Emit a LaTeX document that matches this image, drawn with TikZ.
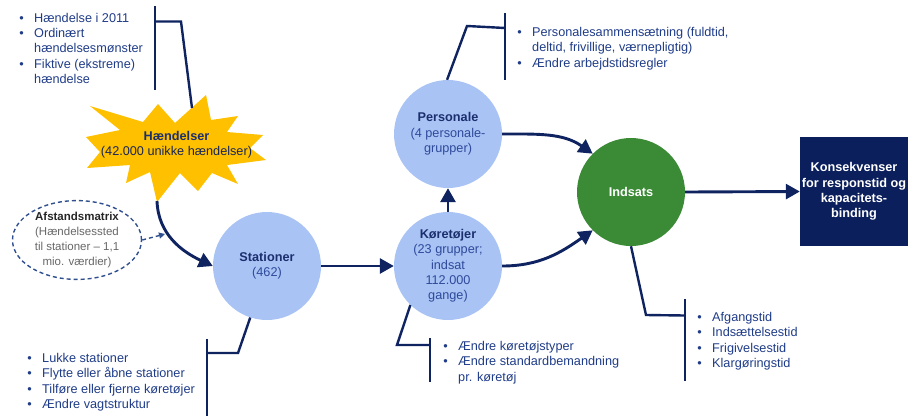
\documentclass[tikz,border=0pt]{standalone}
\usepackage{fontspec}
\setmainfont{Liberation Sans}
\usetikzlibrary{arrows.meta,shapes.geometric}
\definecolor{navy}{HTML}{0F2361}
\definecolor{bultxt}{HTML}{1F3C88}
\definecolor{cfill}{HTML}{A9C3F5}
\definecolor{ctitle}{HTML}{1B2F6E}
\definecolor{csub}{HTML}{2E4A9A}
\definecolor{gfill}{HTML}{3B8A36}
\definecolor{kfill}{HTML}{0B1F5C}
\definecolor{star}{HTML}{FFC000}
\definecolor{dashc}{HTML}{2F4F8F}
\newcommand{\bl}{\llap{\textbullet\hspace{10.5pt}}}
\begin{document}
\begin{tikzpicture}[x=1pt,y=1pt,
  font=\fontsize{12.7}{15.3}\selectfont,
  circ/.style={circle,fill=cfill,minimum size=108pt,inner sep=0pt,align=center,text=csub},
  arr/.style={navy,line width=2.9pt,-{Triangle[length=14pt,width=15pt]}},
  brk/.style={navy,line width=2.4pt},
  blist/.style={anchor=north west,inner sep=0pt,align=left,text=bultxt}]
\useasboundingbox (0,0) rectangle (917,-416);

% star
\fill[star] (90,-106) -- (143,-122) -- (158,-104) -- (175,-123) -- (206,-95) -- (211,-120)
  -- (238,-116) -- (227,-132) -- (263,-135) -- (250,-148) -- (266,-160) -- (227,-165)
  -- (238,-184) -- (212,-173) -- (198,-191) -- (180,-173) -- (157,-202) -- (150,-172)
  -- (126,-183) -- (130,-165) -- (87,-168) -- (100,-152) -- (86,-137) -- (120,-130) -- cycle;
\node[align=center,inner sep=0pt] (hae) at (176.5,-145) {\textcolor{ctitle}{\bfseries Hændelser}\\\textcolor{ctitle!80!black}{(42.000 unikke hændelser)}};
\coordinate (starB) at (157,-201);
\coordinate (starT) at (192,-108);

% ellipse
\node[ellipse,draw=dashc,line width=1.4pt,dash pattern=on 4pt off 3pt,minimum width=129pt,minimum height=75pt,inner sep=0pt,align=center,font=\fontsize{11.5}{15}\selectfont] (afs) at (77,-240)
 {\textcolor{black!85}{\bfseries Afstandsmatrix}\\\textcolor{black!60}{(Hændelsessted}\\\textcolor{black!60}{til stationer – 1,1}\\\textcolor{black!60}{mio. værdier)}};
\coordinate (dashend) at (165,-234);

% circles
\node[circ] (stat) at (267,-266) {\textcolor{ctitle}{\bfseries Stationer}\\(462)};
\node[circ] (kor) at (448,-266) {\textcolor{ctitle}{\bfseries Køretøjer}\\(23 grupper;\\indsat\\112.000\\gange)};
\node[circ] (pers) at (448,-134) {\textcolor{ctitle}{\bfseries Personale}\\(4 personale-\\grupper)};
\node[circle,fill=gfill,minimum size=108pt,inner sep=0pt,text=white,font=\fontsize{12.7}{15.3}\selectfont\bfseries] (inds) at (631,-192) {Indsats};
\node[rectangle,fill=kfill,minimum width=108pt,minimum height=109pt,inner sep=0pt,align=center,text=white,font=\fontsize{12.7}{15.3}\selectfont\bfseries] (kons) at (854,-191.5) {Konsekvenser\\for responstid og\\kapacitets-\\binding};

% arrows
\draw[arr] (starB) to[out=-88,in=155] (stat.west);
\draw[dashc,line width=1.4pt,dash pattern=on 4pt off 3pt,-{Triangle[length=6pt,width=6pt]}] (afs.east) -- (dashend);
\draw[arr] (stat.east) -- (kor.west);
\draw[arr] (kor.north) -- (pers.south);
\draw[arr] (pers.east) to[out=0,in=145] (inds.north west);
\draw[arr] (kor.east) to[out=0,in=-145] (inds.south west);
\draw[arr] (inds.east) -- (kons.west);

% brackets
\coordinate (b1t) at (155,-6); \coordinate (b1b) at (155,-90); \coordinate (b1m) at (155,-21.5);
\draw[brk] (b1t) -- (b1b);
\draw[brk] (starT) -- (181,-21.5) -- (b1m);

\coordinate (b2t) at (207,-339); \coordinate (b2b) at (207,-416); \coordinate (b2m) at (207,-353);
\draw[brk] (b2t) -- (b2b);
\draw[brk] (stat.-108) -- (238,-353) -- (b2m);

\coordinate (b3t) at (430,-338); \coordinate (b3b) at (430,-382); \coordinate (b3m) at (430,-345);
\draw[brk] (b3t) -- (b3b);
\draw[brk] (kor.-134) -- (397,-345) -- (b3m);

\coordinate (b4t) at (505,-13); \coordinate (b4b) at (505,-80); \coordinate (b4m) at (505,-28);
\draw[brk] (b4t) -- (b4b);
\draw[brk] (pers.91) -- (467,-26) -- (b4m);

\coordinate (b5t) at (685,-299); \coordinate (b5b) at (685,-381); \coordinate (b5m) at (685,-315.5);
\draw[brk] (b5t) -- (b5b);
\draw[brk] (inds.-90) -- (646,-315) -- (b5m);

% bullet lists
\node[blist] (l1) at (34,-12.7) {\bl Hændelse i 2011\\\bl Ordinært\\hændelsesmønster\\\bl Fiktive (ekstreme)\\hændelse};
\node[blist] (l2) at (42,-353) {\bl Lukke stationer\\\bl Flytte eller åbne stationer\\\bl Tilføre eller fjerne køretøjer\\\bl Ændre vagtstruktur};
\node[blist] (l3) at (458,-341) {\bl Ændre køretøjstyper\\\bl Ændre standardbemandning\\pr. køretøj};
\node[blist] (l4) at (532,-27) {\bl Personalesammensætning (fuldtid,\\deltid, frivillige, værnepligtig)\\\bl Ændre arbejdstidsregler};
\node[blist] (l5) at (712,-312) {\bl Afgangstid\\\bl Indsættelsestid\\\bl Frigivelsestid\\\bl Klargøringstid};
\end{tikzpicture}
\end{document}
